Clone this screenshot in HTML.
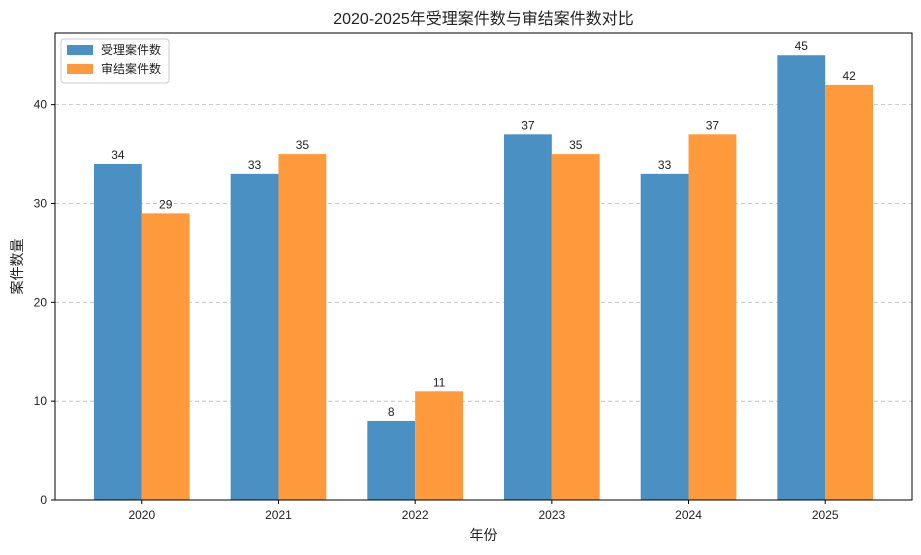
<!DOCTYPE html>
<html><head><meta charset="utf-8"><style>
body{margin:0;background:#fff;}
svg text{font-family:"Liberation Sans","Noto Sans CJK SC",sans-serif;fill:#222;}
</style></head><body>
<svg id="chart" width="921" height="550" xmlns="http://www.w3.org/2000/svg"></svg>
<script>
const categories=["2020","2021","2022","2023","2024","2025"];
const accepted=[34,33,8,37,33,45];
const concluded=[29,35,11,35,37,42];
const yTicks=[0,10,20,30,40];
const seriesNames=["受理案件数","审结案件数"];

const svg=document.getElementById('chart');
const NS="http://www.w3.org/2000/svg";
const L=55,R=912,T=33,B=500;
const xmin=-0.635,xmax=5.635,ymax=47.25;
const xs=v=>L+(v-xmin)/(xmax-xmin)*(R-L);
const ys=v=>B-v/ymax*(B-T);
function mk(tag,attrs,text){const e=document.createElementNS(NS,tag);for(const k in attrs)e.setAttribute(k,attrs[k]);if(text!==undefined)e.textContent=text;svg.appendChild(e);return e;}

// grid + y ticks
yTicks.forEach(t=>{
  if(t>0){const g=mk('line',{x1:L,x2:R,y1:ys(t),y2:ys(t),stroke:'#bbb','stroke-dasharray':'4,3','stroke-width':0.8});
  
  }
  mk('line',{x1:L-4,x2:L,y1:ys(t),y2:ys(t),stroke:'#000'});
  const lb=mk('text',{x:L-8,y:ys(t)+4,'text-anchor':'end','font-size':12},String(t));
  
  
});
const w=0.35;
const colors=["#4a90c2","#ff9a3c"];
[accepted,concluded].forEach((vals,s)=>{
  vals.forEach((v,i)=>{
    const x0=xs(i-w+s*w),x1=xs(i+s*w);
    const r=mk('rect',{x:x0,y:ys(v),width:x1-x0,height:B-ys(v),fill:colors[s]});
    
    
    const t=mk('text',{x:(x0+x1)/2,y:ys(v)-5,'text-anchor':'middle','font-size':12},String(v));
    
    
  });
});
categories.forEach((c,i)=>{
  mk('line',{x1:xs(i),x2:xs(i),y1:B,y2:B+4,stroke:'#000'});
  const t=mk('text',{x:xs(i),y:B+19,'text-anchor':'middle','font-size':12},c);
  
  
});
const fr=mk('rect',{x:L,y:T,width:R-L,height:B-T,fill:'none',stroke:'#000','stroke-width':1});


const title=mk('text',{x:(L+R)/2,y:24,'text-anchor':'middle','font-size':16},"2020-2025年受理案件数与审结案件数对比");


const xt=mk('text',{x:(L+R)/2,y:540,'text-anchor':'middle','font-size':14},"年份");


const yt=mk('text',{x:0,y:0,'text-anchor':'middle','font-size':14,transform:`translate(22,${(T+B)/2}) rotate(-90)`},"案件数量");


// legend
const lg=mk('rect',{x:61,y:39,width:108,height:44,fill:'#fff',stroke:'#ccc',rx:3});


seriesNames.forEach((n,s)=>{
  const sw=mk('rect',{x:67,y:45+s*19,width:26,height:10,fill:colors[s]});
  
  
  const t=mk('text',{x:101,y:54+s*19,'font-size':12},n);
  
  
});
</script>
</body></html>
